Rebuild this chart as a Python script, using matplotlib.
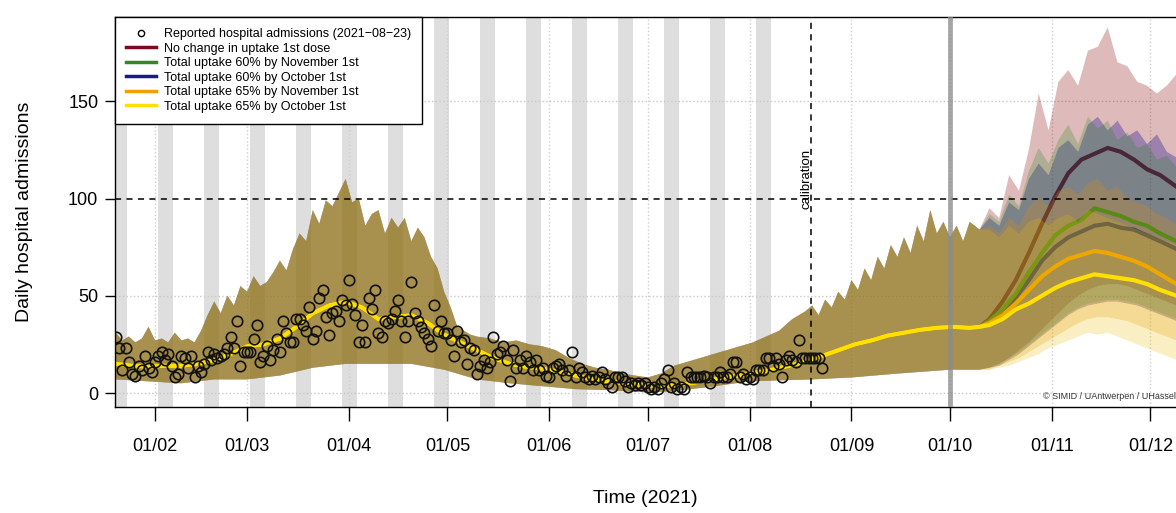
import numpy as np
import matplotlib
matplotlib.use("Agg")
import matplotlib.pyplot as plt
from matplotlib.lines import Line2D

plt.rcParams['font.family'] = ['Liberation Sans', 'DejaVu Sans']

# ---- data (x = day of year 2021) ----
obs_start = 20   # Jan 20
obs_vals = [29, 23, 12, 23, 16, 10, 9, 14, 12, 19,
            13, 11, 16, 19, 21, 17, 20, 14, 8, 10,
            19, 18, 13, 19, 8, 14, 11, 15, 21, 17,
            20, 18, 19, 20, 23, 29, 23, 37, 14, 21,
            21, 21, 28, 35, 16, 19, 24, 17, 22, 28,
            21, 37, 31, 26, 26, 38, 38, 35, 32, 44,
            28, 32, 49, 53, 39, 30, 41, 42, 37, 48,
            45, 58, 46, 40, 26, 35, 26, 49, 43, 53,
            31, 29, 37, 36, 38, 42, 48, 37, 29, 37,
            57, 41, 37, 34, 31, 28, 24, 45, 32, 37,
            31, 31, 27, 19, 32, 26, 27, 15, 23, 22,
            10, 14, 17, 13, 16, 29, 20, 21, 24, 17,
            6, 22, 13, 17, 13, 19, 16, 12, 17, 12,
            13, 9, 8, 13, 14, 15, 12, 9, 12, 21,
            8, 13, 11, 8, 7, 9, 7, 8, 11, 7,
            5, 3, 8, 8, 8, 6, 3, 5, 4, 5,
            4, 5, 3, 2, 3, 2, 5, 7, 12, 3,
            5, 2, 3, 2, 11, 8, 8, 8, 8, 9,
            8, 5, 8, 8, 11, 8, 8, 10, 16, 16,
            8, 10, 7, 8, 7, 12, 12, 12, 18, 18,
            14, 18, 15, 8, 17, 19, 17, 16, 27, 18,
            18, 18, 18, 18, 18, 13]
obs_days = np.arange(obs_start, obs_start + len(obs_vals))

# shared model median (all scenarios identical until ~Oct 10)
mean_days = [20, 25, 30, 35, 40, 45, 50, 55, 60, 65, 70, 75, 80, 85, 90, 95,
             100, 105, 110, 115, 120, 125, 130, 135, 140, 145, 150, 155, 160,
             165, 170, 175, 180, 185, 190, 195, 200, 205, 210, 215, 220, 225,
             230, 235, 240, 245, 250, 255, 260, 265, 270, 275, 280, 283]
mean_vals = [15, 14, 13.5, 14, 14, 15, 17, 20, 24, 25, 28, 34, 41, 45, 47, 44,
             38, 39, 40, 36, 30, 26, 22, 18, 15, 13.5, 12.5, 11, 9,
             7, 6, 5, 4, 3.5, 4, 5, 6.5, 8, 9, 10.5, 12, 14,
             16, 19, 22, 25, 27, 29.5, 31, 32.5, 33.5, 34, 33.5, 34]

# shared uncertainty band
hi_days = [20, 22, 24, 26, 28, 30, 32, 34, 36, 38, 40, 42, 44, 46, 48, 50, 52,
           54, 56, 58, 60, 62, 64, 66, 68, 70, 72, 74, 76, 78, 80, 82, 84, 86,
           88, 90, 92, 94, 96, 98, 100, 102, 104, 106, 108, 110, 112, 114, 116,
           118, 120, 122, 124, 126, 128, 130, 134, 138, 142, 146, 150, 154, 158,
           162, 166, 170, 174, 178, 182, 186, 190, 194, 198, 202, 206, 210, 214,
           218, 222, 226, 230, 232, 234, 236, 238, 240, 242, 244, 246, 248, 250,
           252, 254, 256, 258, 260, 262, 264, 266, 268, 270, 272, 274, 276, 278,
           280, 283]
hi_vals = [31, 27, 29, 26, 28, 34, 27, 28, 26, 31, 27, 28, 26, 32, 40, 47, 41,
           50, 45, 55, 52, 60, 55, 57, 62, 68, 63, 74, 82, 78, 94, 87, 99, 96,
           103, 110, 98, 100, 86, 92, 94, 82, 90, 85, 90, 78, 85, 80, 70,
           64, 52, 44, 34, 32, 30, 29, 28, 26, 27, 25, 24, 22, 18,
           15, 13, 12, 10, 9, 8, 10, 14, 16, 18, 20, 22, 24, 26,
           29, 32, 38, 42, 45, 40, 48, 44, 52, 48, 58, 53, 64, 58,
           70, 64, 76, 70, 80, 72, 86, 78, 94, 82, 88, 80, 86, 78,
           88, 84]
lo_days = [20, 30, 40, 50, 60, 70, 80, 90, 100, 110, 120, 130, 140, 150, 160,
           170, 182, 190, 200, 213, 222, 232, 244, 258, 274, 283]
lo_vals = [7, 6, 5, 7, 7, 9, 13, 15, 15, 15, 12, 7, 5, 3.5, 2,
           1.5, 0.3, 1, 3, 6, 6.5, 7, 8, 10, 12, 12]

# scenario projections
proj_days = [286, 290, 294, 298, 302, 306, 310, 314, 318, 322, 326, 330, 334, 338, 343]
pband_days = [286, 289, 292, 295, 298, 301, 304, 307, 310, 313, 316, 319, 322,
              325, 328, 331, 334, 337, 340, 343]

red_mean = [38, 47, 58, 72, 87, 101, 113, 120, 123, 126, 124, 120, 115, 112, 106]
red_hi = [95, 90, 112, 104, 125, 154, 135, 160, 166, 158, 176, 178, 188, 170, 168, 160, 158, 154, 158, 164]
red_lo = [13, 15, 18, 22, 26, 31, 36, 41, 46, 50, 53, 55, 56, 56, 55, 53, 51, 49, 47, 45]

green_mean = [37, 43, 51, 62, 72, 81, 86, 89, 95, 93, 91, 88, 86, 82, 78]
green_hi = [92, 88, 102, 96, 114, 126, 118, 130, 138, 128, 142, 136, 140, 130, 134, 126, 128, 120, 122, 116]
green_lo = [13, 15, 18, 21, 25, 29, 33, 37, 41, 44, 46, 47, 48, 48, 47, 46, 44, 42, 40, 38]

blue_mean = [37, 42, 49, 58, 68, 75, 80, 83, 86, 87, 85, 84, 81, 78, 74]
blue_hi = [90, 86, 98, 94, 110, 118, 112, 126, 130, 124, 138, 142, 135, 140, 132, 135, 128, 133, 124, 121]
blue_lo = [13, 14, 17, 20, 24, 28, 32, 36, 40, 43, 45, 46, 47, 47, 46, 45, 43, 41, 39, 37]

orange_mean = [36, 40, 46, 53, 60, 65, 69, 71, 73, 72, 70, 68, 65, 61, 56]
orange_hi = [86, 82, 90, 86, 96, 100, 96, 104, 106, 102, 108, 110, 104, 106, 100, 98, 96, 92, 90, 86]
orange_lo = [12, 14, 16, 18, 21, 24, 27, 30, 33, 36, 38, 39, 39, 38, 37, 35, 33, 31, 29, 27]

yellow_mean = [35, 38, 43, 46, 50, 54, 57, 59, 61, 60, 59, 58, 56, 53, 50]
yellow_hi = [84, 80, 86, 82, 88, 90, 86, 90, 92, 88, 94, 92, 90, 88, 86, 84, 82, 80, 78, 76]
yellow_lo = [12, 13, 14, 16, 18, 20, 23, 25, 27, 29, 31, 30, 31, 29, 27, 25, 23, 21, 19, 17]

labels = ['No change in uptake 1st dose', 'Total uptake 60% by November 1st',
          'Total uptake 60% by October 1st', 'Total uptake 65% by November 1st',
          'Total uptake 65% by October 1st']
line_colors = ['#7A0A1E', '#2E8B20', '#1A1A8B', '#F0A000', '#FFE000']
band_colors = ['#8B0000', '#228B22', '#00008B', '#E68A00', '#E6BE00']
band_alpha = [0.27, 0.25, 0.3, 0.24, 0.24]
scen = [(red_mean, red_hi, red_lo), (green_mean, green_hi, green_lo),
        (blue_mean, blue_hi, blue_lo), (orange_mean, orange_hi, orange_lo),
        (yellow_mean, yellow_hi, yellow_lo)]

month_days = [32, 60, 91, 121, 152, 182, 213, 244, 274, 305, 335]
month_labels = ['01/02', '01/03', '01/04', '01/05', '01/06', '01/07',
                '01/08', '01/09', '01/10', '01/11', '01/12']
bar_starts = np.arange(19, 216, 14)
calib_day = 231.7
proj_start = 274

# ---- plot ----
fig = plt.figure(figsize=(11.76, 5.13), dpi=100)
ax = fig.add_axes([0.0978, 0.2066, 0.9022, 0.7602])

for d in bar_starts:
    ax.axvspan(d, d + 4.5, color='#dedede', lw=0, zorder=0)
for y in [0, 50, 150]:
    ax.axhline(y, color='#c8c8c8', ls=':', lw=1, zorder=1)
for d in month_days:
    ax.axvline(d, color='#d0d0d0', ls=':', lw=1, zorder=1)

# bands + lines, in drawing order (later bands cover earlier lines)
order = [0, 2, 1, 3, 4]
for i in order:
    m, hi, lo = scen[i]
    xs_hi = np.r_[hi_days, pband_days]
    ys_hi = np.r_[hi_vals, hi]
    xs_lo = np.r_[lo_days, pband_days]
    ys_lo = np.r_[lo_vals, lo]
    ax.fill(np.r_[xs_hi, xs_lo[::-1]], np.r_[ys_hi, ys_lo[::-1]],
            color=band_colors[i], alpha=band_alpha[i], lw=0, zorder=2)
    ax.plot(np.r_[mean_days, proj_days], np.r_[mean_vals, m],
            color=line_colors[i], lw=3, zorder=2, solid_joinstyle='round')

ax.axhline(100, color='black', ls=(0, (4, 3.5)), lw=1.1, zorder=6)
ax.axvline(calib_day, color='black', ls=(0, (4, 3.5)), lw=1.1, zorder=6)
ax.text(calib_day + 0.4, 110, 'calibration', rotation=90, ha='right',
        va='center', fontsize=9.5, zorder=8)
ax.axvline(proj_start, color='#8a8a8a', lw=3.5, alpha=0.75, zorder=7)

ax.plot(obs_days, obs_vals, 'o', mfc='none', mec='#111111', mew=1.2,
        ms=7.5, zorder=10)

ax.text(302.3, -1.6, '\u00a9 SIMID / UAntwerpen / UHasselt', fontsize=6.5,
        ha='left', va='center', color='#333333', zorder=12)

ax.set_xlim(19.8, 342.8)
ax.set_ylim(-7.2, 193.3)
ax.set_xticks(month_days)
ax.set_xticklabels(month_labels)
ax.set_yticks([0, 50, 100, 150])
ax.tick_params(axis='x', length=10, pad=12, labelsize=13, width=1)
ax.tick_params(axis='y', length=7, pad=5, labelsize=13, width=1)
ax.spines['right'].set_visible(False)
for s in ['left', 'bottom', 'top']:
    ax.spines[s].set_linewidth(1.0)

ax.set_ylabel('Daily hospital admissions', fontsize=14)
ax.yaxis.set_label_coords(-0.077, 0.5)
ax.set_xlabel('Time (2021)', fontsize=14, va='top')
ax.xaxis.set_label_coords(0.5, -0.213)

handles = [Line2D([], [], marker='o', ls='none', mfc='none', mec='black',
                  ms=4.5, mew=1)]
handles += [Line2D([], [], color=c, lw=2.5) for c in line_colors]
leg = ax.legend(handles, ['Reported hospital admissions (2021\u221208\u221223)'] + labels,
                loc='upper left', bbox_to_anchor=(0, 1), borderaxespad=0,
                fontsize=9, fancybox=False, edgecolor='black', framealpha=1,
                handlelength=2.4, labelspacing=0.2, borderpad=0.9,
                handletextpad=0.6)
leg.get_frame().set_linewidth(1.0)
leg.set_zorder(20)

fig.savefig('out.png', dpi=100)
